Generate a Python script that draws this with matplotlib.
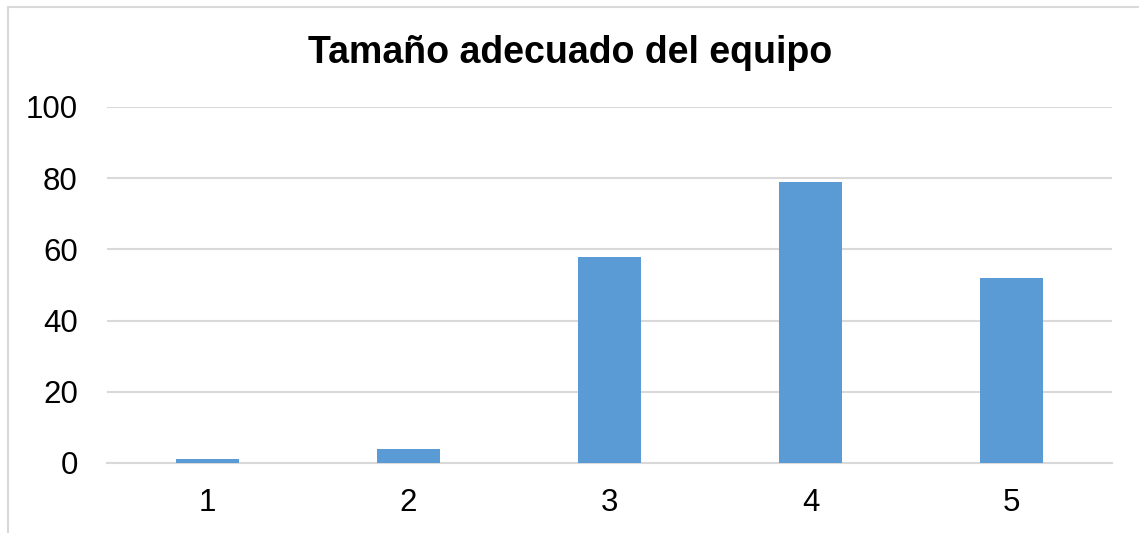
import matplotlib
matplotlib.use("Agg")
import matplotlib.pyplot as plt
from matplotlib.patches import Rectangle

categories = ["1", "2", "3", "4", "5"]
values = [1, 4, 58, 79, 52]
y_ticks = [0, 20, 40, 60, 80, 100]

plt.rcParams["font.family"] = ["Liberation Sans", "DejaVu Sans"]

W, H = 1139, 533
fig = plt.figure(figsize=(W / 100, H / 100), dpi=100)

# outer chart frame (runs off the right/bottom edges in the reference)
fig.patches.append(Rectangle((8 / W, -0.1), 1.2, 1 - 7 / H + 0.1,
                             transform=fig.transFigure, fill=False,
                             edgecolor="#D9D9D9", linewidth=1.5))

ax = fig.add_axes([107 / W, 1 - 463 / H, (1112 - 107) / W, (463 - 107) / H])
x = list(range(1, len(categories) + 1))
ax.bar(x, values, width=0.315, color="#5B9BD5", zorder=3)

ax.set_xlim(0.5, 5.5)
ax.set_ylim(0, 100)
ax.set_yticks(y_ticks)
ax.set_xticks(x)
ax.set_xticklabels(categories)
ax.grid(axis="y", color="#D9D9D9", linewidth=1.5, zorder=0)
for s in ["top", "right", "left"]:
    ax.spines[s].set_visible(False)
ax.spines["bottom"].set_color("#D9D9D9")
ax.spines["bottom"].set_linewidth(1.5)
ax.tick_params(axis="both", length=0, labelsize=22.5, colors="black")
ax.tick_params(axis="y", pad=21)
ax.tick_params(axis="x", pad=18)

fig.text(570 / W, 1 - 63 / H, "Tamaño adecuado del equipo", ha="center",
         va="baseline", fontsize=27, fontweight="bold")

fig.savefig("out.png", dpi=100)
